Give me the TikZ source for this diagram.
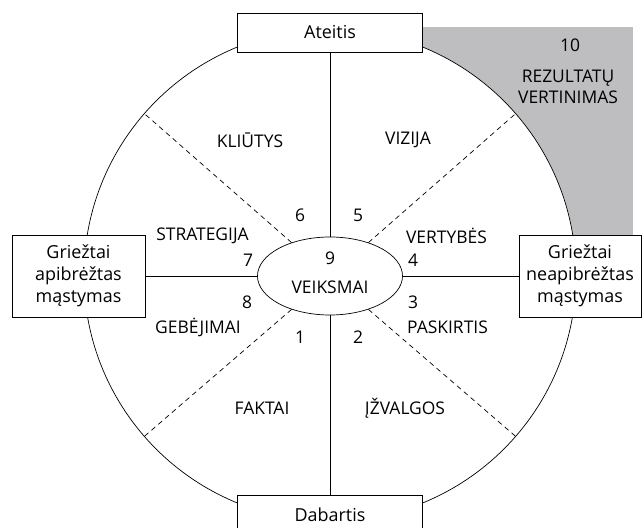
\documentclass[tikz,border=0pt]{standalone}
\usepackage{fontspec}
\setmainfont{Open Sans}
\usetikzlibrary{shapes.geometric}
\definecolor{cornergrey}{RGB}{190,190,193}
\begin{document}
\begin{tikzpicture}[x=1bp, y=1bp]
    \tikzstyle{box} = [draw = black, fill = white, line width = 0.7bp, inner sep = 0pt, font = \fontsize{18}{22}\selectfont, align = center]
    \tikzstyle{lab} = [font = \fontsize{17.5}{20}\selectfont, text = black, inner sep = 0pt]
    \tikzstyle{part} = [line width = 0.7bp, dash pattern = on 5bp off 4bp]
    \useasboundingbox (-330, -253) rectangle (313, 275);

    % grey corner
    \fill[cornergrey] (92, 248) rectangle (303, 40);

    \node[circle, draw = black, fill = white, line width = 0.7bp, minimum size = 492bp, inner sep = 0pt](Circle) at (0, 0){};
    \node[ellipse, draw = black, fill = white, line width = 0.7bp, minimum width = 145bp, minimum height = 78bp, inner sep = 0pt](Act) at (0, -1){};

    \node[box, minimum width = 185bp, minimum height = 39bp](Future) at (0, 242.5){Ateitis};
    \node[box, minimum width = 185bp, minimum height = 39bp](Present) at (0, -239.5){Dabartis};
    \node[box, minimum width = 133bp, minimum height = 82bp](Strict) at (-251.5, -1){Griežtai\\apibrėžtas\\mąstymas};
    \node[box, minimum width = 122bp, minimum height = 82bp](Loose) at (250, -1){Griežtai\\neapibrėžtas\\mąstymas};

    \draw[line width = 0.7bp](Act.north)--(Future.south);
    \draw[line width = 0.7bp](Act.south)--(Present.north);
    \draw[line width = 0.7bp](Act.west)--(Act.west -| Strict.east);
    \draw[line width = 0.7bp](Act.east)--(Act.east -| Loose.west);

    \draw[part](Act.41)--(Circle.41);
    \draw[part](Act.139)--(Circle.139);
    \draw[part](Act.221)--(Circle.221);
    \draw[part](Act.319)--(Circle.319);

    \node[lab](n9) at (0, 17){9};
    \node[lab](Steps) at (0, -12){VEIKSMAI};

    \node[lab](n10) at (240, 230){10};
    \node[lab](Review1) at (238, 197){REZULTATŲ};
    \node[lab](Review2) at (238, 178){VERTINIMAS};

    \node[lab](Obstacles) at (-80, 135){KLIŪTYS};
    \node[lab](Vision) at (78, 135){VIZIJA};
    \node[lab](n6) at (-30, 60){6};
    \node[lab](n5) at (28, 60){5};
    \node[lab](Strategy) at (-127.5, 39){STRATEGIJA};
    \node[lab](Values) at (116.5, 39){VERTYBĖS};
    \node[lab](n7) at (-82, 15){7};
    \node[lab](n4) at (83, 15){4};
    \node[lab](n8) at (-83, -27){8};
    \node[lab](n3) at (83, -27){3};
    \node[lab](Skills) at (-132, -52){GEBĖJIMAI};
    \node[lab](Purpose) at (117.5, -52){PASKIRTIS};
    \node[lab](n1) at (-30, -62){1};
    \node[lab](n2) at (28, -62){2};
    \node[lab](Facts) at (-68, -133){FAKTAI};
    \node[lab](Insights) at (75, -133){ĮŽVALGOS};

\end{tikzpicture}
\end{document}
